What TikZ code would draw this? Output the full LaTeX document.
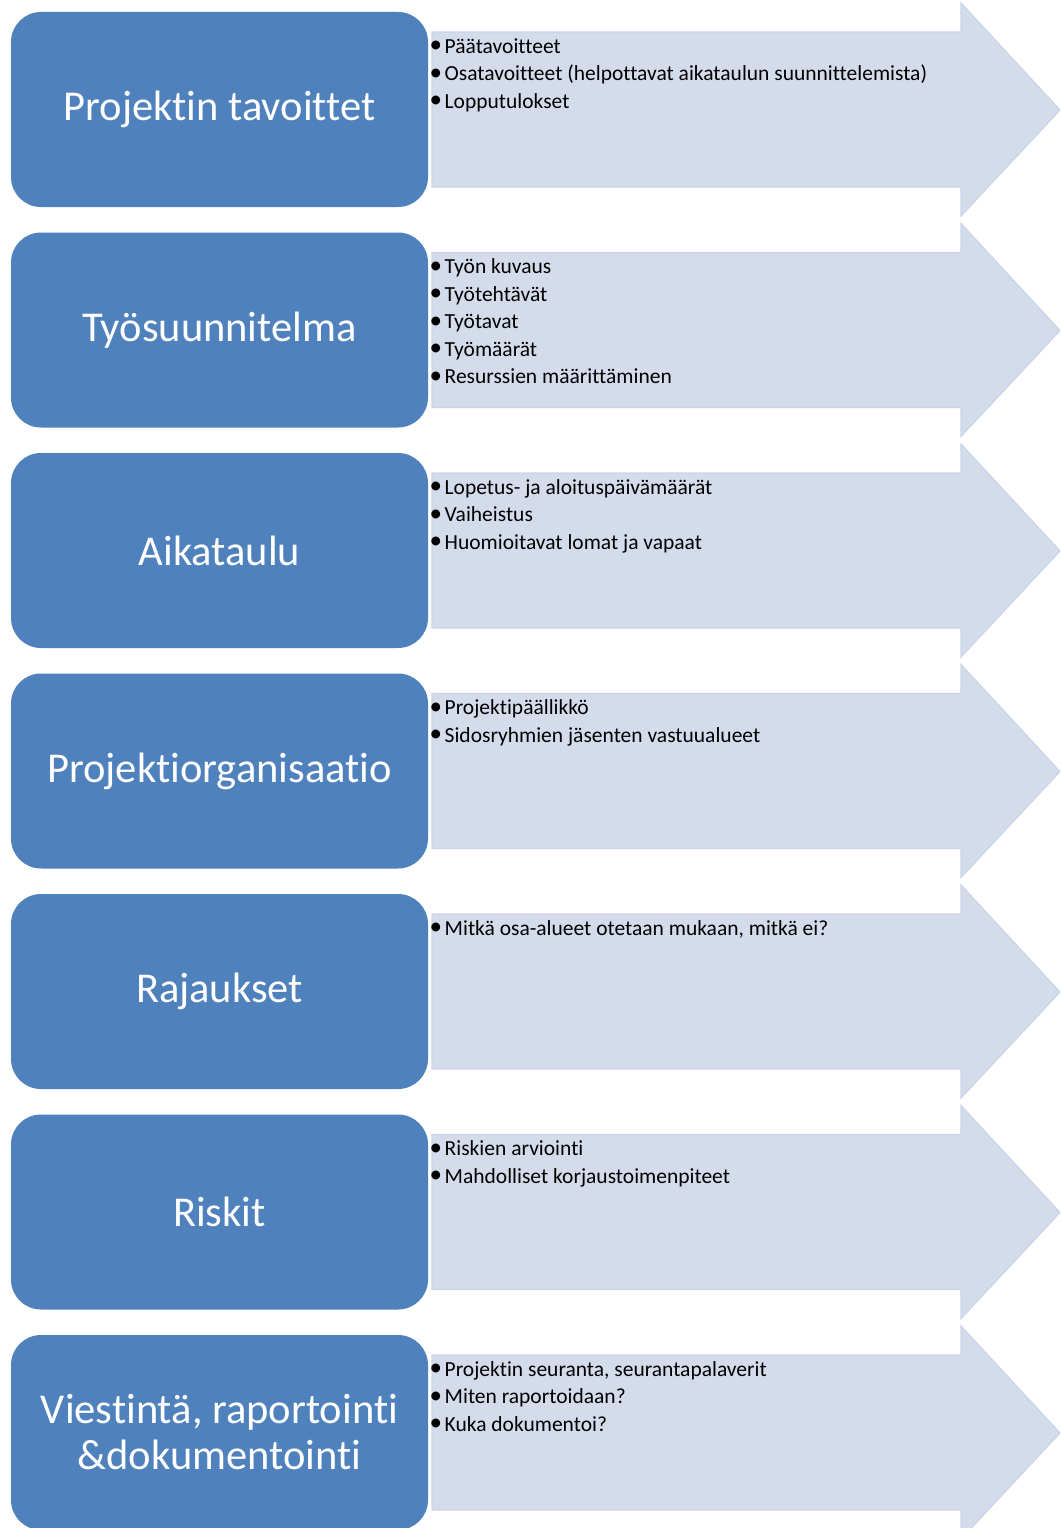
\documentclass[tikz,border=0pt]{standalone}
\usepackage{fontspec}
\setmainfont[Ligatures=NoCommon]{Carlito}
\definecolor{boxblue}{HTML}{4F81BD}
\definecolor{arrowfill}{HTML}{D4DBEB}
\definecolor{arrowedge}{HTML}{CBD4E7}

% bullet mark set a little larger than the item text
\newcommand{\itemdot}{\makebox[11.5pt][l]{\hspace{-3.5pt}\raisebox{0.3pt}{\fontsize{25}{25}\selectfont•}}}

% one row: #1 index, #2 node name, #3 title, #4 bullet items
\newcommand{\planrow}[4]{%
  \pgfmathsetmacro{\rt}{12+220.5*#1}%
  \path[arrowshape] (432,\rt+20) -- (961,\rt+20) -- (961,\rt-9) -- (1060,\rt+98)
        -- (961,\rt+204) -- (961,\rt+175) -- (432,\rt+175) -- cycle;
  \node[titlebox] (#2) at (219.5,\rt+97.5) {#3};
  \foreach \txt [count=\k] in {#4} {
    \node[itemtext] (#2-\k) at (433,\rt+13.5+27.5*\k) {\itemdot\txt};
  }%
}

\begin{document}
\begin{tikzpicture}[x=1pt,y=-1pt,
  titlebox/.style={fill=boxblue, draw=none, rounded corners=30pt,
    minimum width=417pt, minimum height=195pt, inner sep=0pt,
    text=white, font=\fontsize{42.5}{46}\selectfont, align=center},
  arrowshape/.style={fill=arrowfill, draw=arrowedge, line width=1.2pt, line join=miter},
  itemtext/.style={font=\fontsize{21.5}{24}\selectfont, anchor=base west, inner sep=0pt, text=black}]
  \fill[white] (0,0) rectangle (1060,1528);
  \clip (0,0) rectangle (1060,1528);

  \planrow{0}{goals}{Projektin tavoittet}
    {{Päätavoitteet},{Osatavoitteet (helpottavat aikataulun suunnittelemista)},{Lopputulokset}}
  \planrow{1}{workplan}{Työsuunnitelma}
    {{Työn kuvaus},{Työtehtävät},{Työtavat},{Työmäärät},{Resurssien määrittäminen}}
  \planrow{2}{schedule}{Aikataulu}
    {{Lopetus- ja aloituspäivämäärät},{Vaiheistus},{Huomioitavat lomat ja vapaat}}
  \planrow{3}{organisation}{Projektiorganisaatio}
    {{Projektipäällikkö},{Sidosryhmien jäsenten vastuualueet}}
  \planrow{4}{scope}{Rajaukset}
    {{Mitkä osa-alueet otetaan mukaan, mitkä ei?}}
  \planrow{5}{risks}{Riskit}
    {{Riskien arviointi},{Mahdolliset korjaustoimenpiteet}}
  \planrow{6}{communication}{Viestintä, raportointi\\\&dokumentointi}
    {{Projektin seuranta, seurantapalaverit},{Miten raportoidaan?},{Kuka dokumentoi?}}
\end{tikzpicture}
\end{document}
